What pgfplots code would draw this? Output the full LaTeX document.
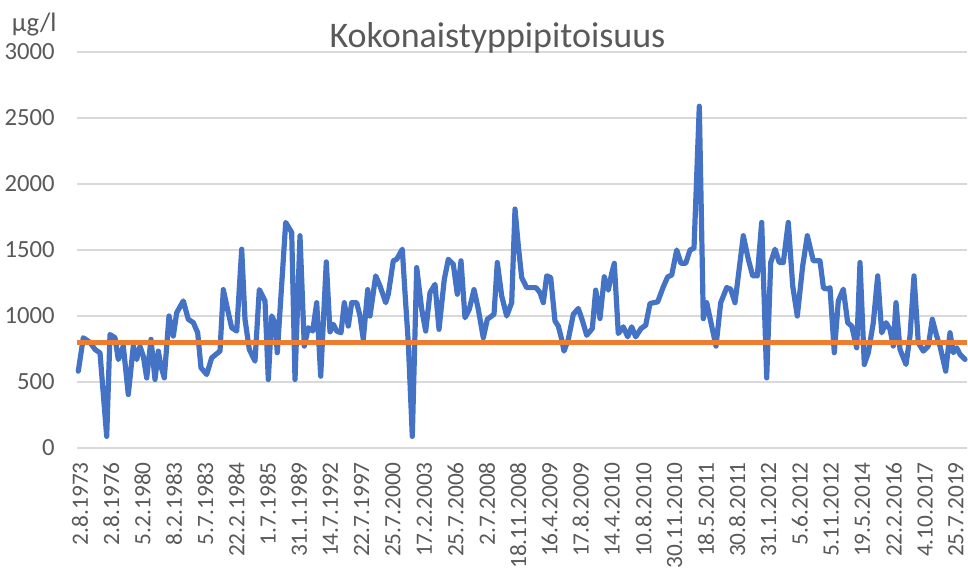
\documentclass[border=0pt]{standalone}
\usepackage{fontspec}
\setmainfont{Carlito}
\usepackage{pgfplots}
\pgfplotsset{compat=1.18}
\definecolor{lineblue}{HTML}{4472C4}
\definecolor{lineorange}{HTML}{ED7D31}
\definecolor{gridgray}{HTML}{D9D9D9}
\definecolor{textgray}{HTML}{595959}
\begin{document}
\begin{tikzpicture}
\begin{axis}[
  at={(0,0)}, anchor=south west,
  scale only axis, width=667.5pt, height=297pt,
  xmin=77, xmax=967, ymin=0, ymax=3000,
  clip=false,
  axis line style={draw=none},
  ytick={0,500,...,3000},
  ymajorgrids, grid style={gridgray, line width=1.1pt},
  major tick length=0pt,
  xtick={80,111.3,142.6,173.9,205.2,236.5,267.8,299.1,330.4,361.7,393,424.3,455.6,486.9,518.2,549.5,580.8,612.1,643.4,674.7,706,737.3,768.6,799.9,831.2,862.5,893.8,925.1,956},
  xticklabels={2.8.1973,2.8.1976,5.2.1980,8.2.1983,5.7.1983,22.2.1984,1.7.1985,31.1.1989,14.7.1992,22.7.1997,25.7.2000,17.2.2003,25.7.2006,2.7.2008,18.11.2008,16.4.2009,17.8.2009,14.4.2010,10.8.2010,30.11.2010,18.5.2011,30.8.2011,31.1.2012,5.6.2012,5.11.2012,19.5.2014,22.2.2016,4.10.2017,25.7.2019},
  xticklabel style={yshift=-10.5pt, rotate=90, anchor=east, inner sep=0pt, font=\fontsize{17.5}{19}\selectfont, text=textgray},
  yticklabel style={anchor=east, inner sep=0pt, xshift=-16.5pt, font=\fontsize{18.5}{20}\selectfont, text=textgray},
  /pgf/number format/assume math mode=true,
  /pgf/number format/set thousands separator={},
]
\addplot[lineblue, line width=3.9pt, line join=round, line cap=round] coordinates {
(78.3,582) (83.3,835) (90,800) (95,747) (100,720) (106.7,88) (110,860) (115,835)
(118.3,670) (123.3,772) (128.3,405) (133.3,772) (136.7,670) (140,770) (143.3,696)
(146.7,531) (151,823) (155,519) (158.3,734) (161,620) (164.3,531) (169,1000)
(173.3,848) (176.7,1025) (183.3,1114) (188.3,975) (193.3,950) (197.7,873) (201,608)
(206.7,557) (211.7,683) (220,734) (223.3,1200) (228.3,1025) (231.7,911) (236.7,886)
(241.7,1506) (245,975) (249.3,747) (255,658) (259.3,1200) (265,1114) (268.3,519)
(271.7,1000) (275,950) (277.3,722) (285.7,1709) (291.7,1633) (295,519) (300,1608)
(304.3,772) (308.3,911) (312.7,886) (316.7,1101) (320.7,544) (326.3,1410) (330,880)
(333.3,937) (336.7,886) (341,873) (344.3,1101) (348.3,924) (351.7,1101) (356.7,1101)
(360,1000) (363.3,823) (367.7,1200) (370,1000) (375.7,1304) (380,1228) (385.7,1101)
(388.3,1165) (393.3,1418) (396.7,1430) (402.3,1506) (405,1177) (408.3,797) (412.3,88)
(416.7,1367) (421.7,1051) (425.7,886) (430,1177) (435,1240) (439,899) (444.3,1278)
(448.3,1430) (453.3,1392) (457.3,1165) (461,1418) (465,987) (469.3,1051) (474,1200)
(478.3,1051) (483.3,835) (487.3,975) (491.7,1000) (494,1013) (497.3,1405) (501.7,1152)
(506.7,1000) (511.7,1101) (515,1810) (518.3,1532) (521.7,1291) (526.7,1215) (536,1215)
(540,1177) (543.3,1101) (546.7,1304) (550.7,1291) (555,962) (558.3,924) (561.7,823)
(564,734) (568.3,823) (573.3,1013) (578.3,1057) (582.3,968) (586.7,854) (592.3,905)
(595.7,1196) (600,981) (604.3,1297) (608.3,1196) (611.7,1323) (614.3,1399) (618.3,867)
(623.3,918) (627.7,842) (631.7,918) (635.7,842) (641,905) (645.7,930) (650,1095)
(657.7,1107) (663.3,1221) (667.7,1297) (671.7,1310) (676.7,1500) (681,1399) (685.7,1399)
(690,1500) (694,1513) (699.3,2589) (703.3,980) (706.7,1101) (711.7,924) (716,772)
(720.7,1101) (726.7,1215) (730.7,1203) (735,1101) (743.3,1608) (748.3,1430) (752.7,1304)
(757.3,1304) (761.7,1709) (766.7,531) (770.7,1405) (775,1506) (779.3,1405) (783.3,1405)
(788.3,1709) (792.7,1228) (797.3,1000) (802.7,1380) (807.3,1608) (813.3,1418) (820,1418)
(823.5,1210) (828.3,1205) (830,1215) (834.3,722) (838.3,1114) (843.3,1203) (847.7,949)
(851.7,924) (856.7,759) (860,1405) (864.3,633) (868.3,722) (873.3,949) (877.7,1304)
(881.7,873) (886,949) (890,899) (893.3,772) (896,1101) (900,747) (906,633) (910,848)
(914,1304) (918.3,797) (923.3,734) (928.3,772) (932.3,975) (936.7,848) (940,772)
(945.7,582) (950,873) (953.3,722) (956.7,759) (960,709) (965,671)
};
\addplot[lineorange, line width=4pt] coordinates {(77,800) (967,800)};
\node[anchor=base, text=textgray, font=\fontsize{27}{32}\selectfont, inner sep=0pt] at (axis cs:497.5,3033) {Kokonaistyppipitoisuus};
\node[anchor=base east, text=textgray, font=\fontsize{20}{24}\selectfont, inner sep=0pt] at (axis cs:56.7,3159) {µg/l};
\end{axis}
\pgfresetboundingbox
\path (-57.75pt,-98.25pt) rectangle (668.25pt,336pt);
\end{tikzpicture}
\end{document}
